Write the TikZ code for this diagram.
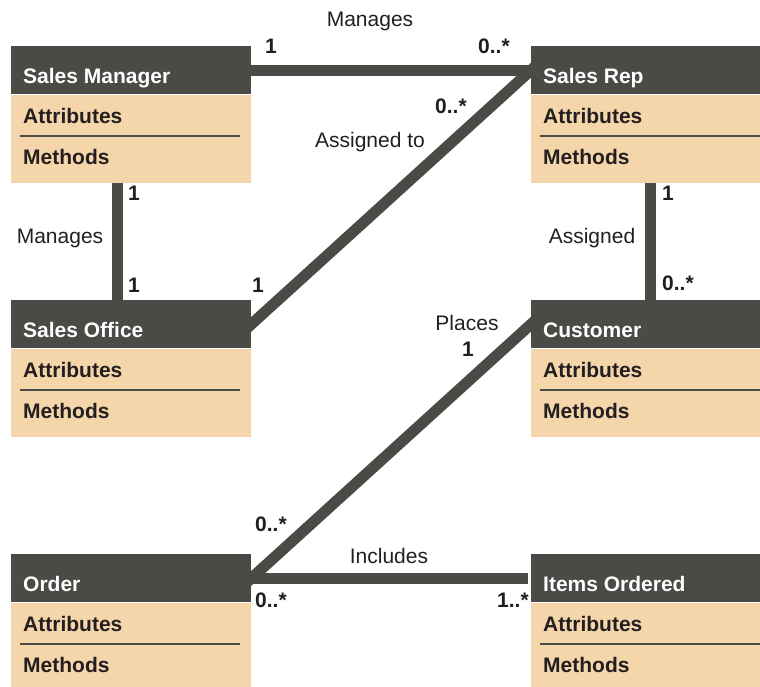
\documentclass[tikz,border=0pt]{standalone}
\usepackage{xcolor}
\usepackage{fontspec}
\setmainfont{Liberation Sans}
\usepackage{tikz}
\usetikzlibrary{positioning, calc, backgrounds}
\definecolor{headgray}{HTML}{4A4B46}
\definecolor{bodytan}{HTML}{F5D6AB}
\definecolor{inkdark}{HTML}{231F20}

\newcommand{\diafont}{\fontsize{21}{25}\selectfont}

\tikzset{
  classhead/.style={fill=headgray, inner sep=0pt, minimum width=240pt,
                    minimum height=48pt, anchor=north west},
  classbody/.style={fill=bodytan, inner sep=0pt, minimum width=240pt,
                    minimum height=88pt},
  classname/.style={text=white, font=\diafont\bfseries, inner sep=0pt,
                    anchor=base west},
  member/.style={text=inkdark, font=\diafont\bfseries, inner sep=0pt,
                 anchor=base west},
  divider/.style={draw=headgray, line width=2pt},
  assoc/.style={draw=headgray, line width=11pt, shorten <=-8pt, shorten >=-8pt},
  mult/.style={text=inkdark, font=\diafont\bfseries, inner sep=0pt,
               anchor=base west},
  role/.style={text=inkdark, font=\diafont, inner sep=0pt, anchor=base},
}

% one class box: header, body, divider
\newcommand{\umlclass}[4]{%
  \node[classhead] (#1) at (#2,#3) {};
  \node[classbody, below=0pt of #1] (#1-b) {};
  \node[classname] (#1-t) at ($(#1.north west)+(12,37)$) {#4};
  \node[member] (#1-a) at ($(#1.north west)+(12,77)$) {Attributes};
  \draw[divider] ($(#1.north west)+(9,90)$) -- ($(#1.north west)+(229,90)$);
  \node[member] (#1-m) at ($(#1.north west)+(12,118)$) {Methods};
}

\begin{document}
\begin{tikzpicture}[x=1pt, y=-1pt]
  \useasboundingbox (0,0) rectangle (760,686);

  \umlclass{mgr}{11}{46}{Sales Manager}
  \umlclass{rep}{531}{46}{Sales Rep}
  \umlclass{office}{11}{300}{Sales Office}
  \umlclass{cust}{531}{300}{Customer}
  \umlclass{order}{11}{554}{Order}
  \umlclass{items}{531}{554}{Items Ordered}

  % associations
  \begin{scope}[on background layer]
    \draw[assoc] (mgr.east) -- (rep.west);
    \draw[assoc] (office.east) -- (rep.west);
    \draw[assoc] ([xshift=-14pt]mgr-b.south) -- ([xshift=-14pt]office.north);
    \draw[assoc] ([xshift=-1pt]rep-b.south) -- ([xshift=-1pt]cust.north);
    \draw[assoc] (cust.west) -- (order.east);
    \draw[assoc, shorten >=3pt] (order.east) -- (items.west);
  \end{scope}

  % association names
  \node[role] (r-manages) at (370,26) {Manages};
  \node[role] (r-assignedto) at (370,147) {Assigned to};
  \node[role] (r-manages2) at (60,243) {Manages};
  \node[role] (r-assigned) at (592,243) {Assigned};
  \node[role] (r-places) at (467,330) {Places};
  \node[role] (r-includes) at (389,563) {Includes};

  % multiplicities
  \node[mult] (m-mgr-rep) at (265,53) {1};
  \node[mult] (m-rep-mgr) at (478,53) {0..*};
  \node[mult] (m-rep-off) at (435,113) {0..*};
  \node[mult] (m-mgr-off) at (128,200) {1};
  \node[mult] (m-off-mgr) at (128,292) {1};
  \node[mult] (m-off-rep) at (252,292) {1};
  \node[mult] (m-rep-cust) at (662,200) {1};
  \node[mult] (m-cust-rep) at (662,290) {0..*};
  \node[mult] (m-cust-ord) at (462,356) {1};
  \node[mult] (m-ord-cust) at (255,531) {0..*};
  \node[mult] (m-ord-item) at (255,607) {0..*};
  \node[mult] (m-item-ord) at (497,607) {1..*};
\end{tikzpicture}
\end{document}
